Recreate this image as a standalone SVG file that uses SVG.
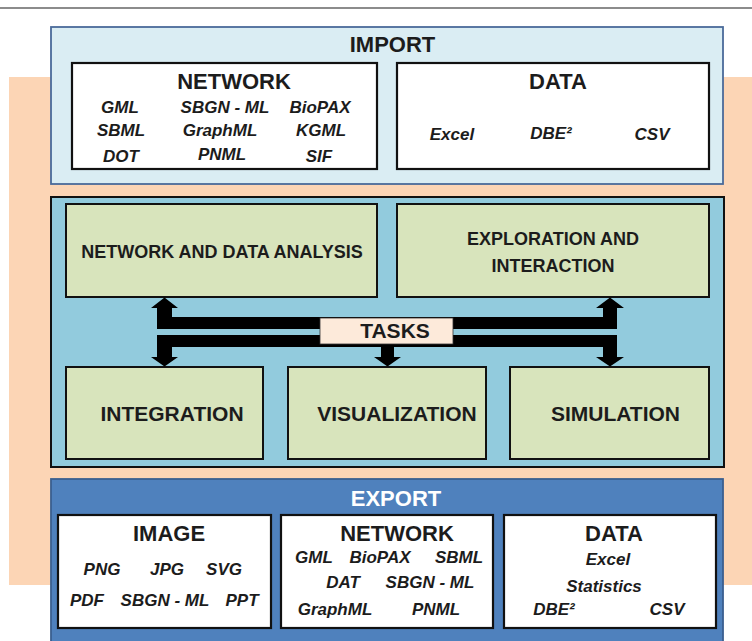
<svg xmlns="http://www.w3.org/2000/svg" width="752" height="641" viewBox="0 0 752 641">
<style>
text{font-family:"Liberation Sans",Arial,sans-serif;font-weight:bold;fill:#1c1c1c;text-anchor:middle}
.h{font-size:22px}
.t{font-size:18px}
.b{font-size:21px}
.i{font-size:17px;font-style:italic}
.box{fill:#ffffff;stroke:#111;stroke-width:2.2}
.task{fill:#d8e4bc;stroke:#111;stroke-width:2}
.w{fill:#ffffff}
</style>
<rect width="752" height="641" fill="#ffffff"/>
<line x1="0" y1="8" x2="752" y2="8" stroke="#8c8c8c" stroke-width="2"/>
<rect x="9" y="77" width="743" height="508" fill="#fcd5b5"/>

<g id="import">
<rect x="51" y="27" width="672" height="157" fill="#daedf3" stroke="#4a6a9a" stroke-width="1.8"/>
<text class="h" x="392.5" y="52">IMPORT</text>
</g>
<g id="import-network">
<rect class="box" x="72" y="63" width="305" height="106"/>
<text class="h" x="234" y="89">NETWORK</text>
<text class="i" x="120" y="113">GML</text>
<text class="i" x="225" y="113">SBGN - ML</text>
<text class="i" x="320" y="113">BioPAX</text>
<text class="i" x="121" y="136">SBML</text>
<text class="i" x="220" y="136">GraphML</text>
<text class="i" x="321" y="136">KGML</text>
<text class="i" x="121" y="162">DOT</text>
<text class="i" x="222" y="160">PNML</text>
<text class="i" x="319" y="162">SIF</text>
</g>
<g id="import-data">
<rect class="box" x="397" y="63" width="312" height="106"/>
<text class="h" x="558" y="89">DATA</text>
<text class="i" x="452" y="140">Excel</text>
<text class="i" x="551" y="139">DBE²</text>
<text class="i" x="652" y="140">CSV</text>
</g>

<g id="tasks-panel">
<rect x="51" y="197" width="673" height="270" fill="#92cbdd" stroke="#111" stroke-width="2"/>
</g>
<g id="analysis">
<rect class="task" x="66" y="204" width="311" height="93"/>
<text class="t" x="222" y="258">NETWORK AND DATA ANALYSIS</text>
</g>
<g id="exploration">
<rect class="task" x="397" y="204" width="312" height="93"/>
<text class="t" x="553" y="245">EXPLORATION AND</text>
<text class="t" x="553" y="272">INTERACTION</text>
</g>
<g id="integration">
<rect class="task" x="66" y="367" width="197" height="92"/>
<text class="b" x="172" y="421">INTEGRATION</text>
</g>
<g id="visualization">
<rect class="task" x="288" y="367" width="198" height="92"/>
<text class="b" x="397" y="421">VISUALIZATION</text>
</g>
<g id="simulation">
<rect class="task" x="510" y="367" width="199" height="92"/>
<text class="b" x="615.5" y="421">SIMULATION</text>
</g>

<g id="connectors" fill="#000">
<path d="M157,329 L157,308 L151,308 L164.5,297.5 L178,308 L172,308 L172,317 L603,317 L603,308 L596,308 L610,297.5 L624,308 L617,308 L617,329 Z"/>
<path d="M157,335 L617,335 L617,357 L624,357 L610,366.5 L596,357 L603,357 L603,347 L172,347 L172,357 L178,357 L164.5,366.5 L151,357 L157,357 Z"/>
<path d="M381,344 L394,344 L394,357 L401,357 L387.5,366.5 L374,357 L381,357 Z"/>
</g>
<g id="tasks">
<rect x="320" y="318" width="133" height="26" fill="#fdeada" stroke="#333" stroke-width="0.8"/>
<text class="b" x="395" y="338">TASKS</text>
</g>

<g id="export">
<rect x="51" y="479" width="672" height="175" fill="#4f81bd" stroke="#3a5f8f" stroke-width="1.8"/>
<text class="h w" x="396" y="506" style="fill:#ffffff">EXPORT</text>
</g>
<g id="export-image">
<rect class="box" x="58" y="515" width="213" height="113"/>
<text class="h" x="169" y="541">IMAGE</text>
<text class="i" x="102" y="575">PNG</text>
<text class="i" x="167" y="575">JPG</text>
<text class="i" x="224" y="575">SVG</text>
<text class="i" x="87" y="606">PDF</text>
<text class="i" x="165" y="606">SBGN - ML</text>
<text class="i" x="242" y="606">PPT</text>
</g>
<g id="export-network">
<rect class="box" x="281" y="515" width="212" height="113"/>
<text class="h" x="397" y="541">NETWORK</text>
<text class="i" x="314" y="563">GML</text>
<text class="i" x="380" y="563">BioPAX</text>
<text class="i" x="459" y="563">SBML</text>
<text class="i" x="343" y="588">DAT</text>
<text class="i" x="430" y="588">SBGN - ML</text>
<text class="i" x="335" y="615">GraphML</text>
<text class="i" x="436" y="615">PNML</text>
</g>
<g id="export-data">
<rect class="box" x="504" y="515" width="212" height="113"/>
<text class="h" x="614" y="541">DATA</text>
<text class="i" x="608" y="565">Excel</text>
<text class="i" x="604" y="592">Statistics</text>
<text class="i" x="554" y="615">DBE²</text>
<text class="i" x="667" y="615">CSV</text>
</g>
</svg>
